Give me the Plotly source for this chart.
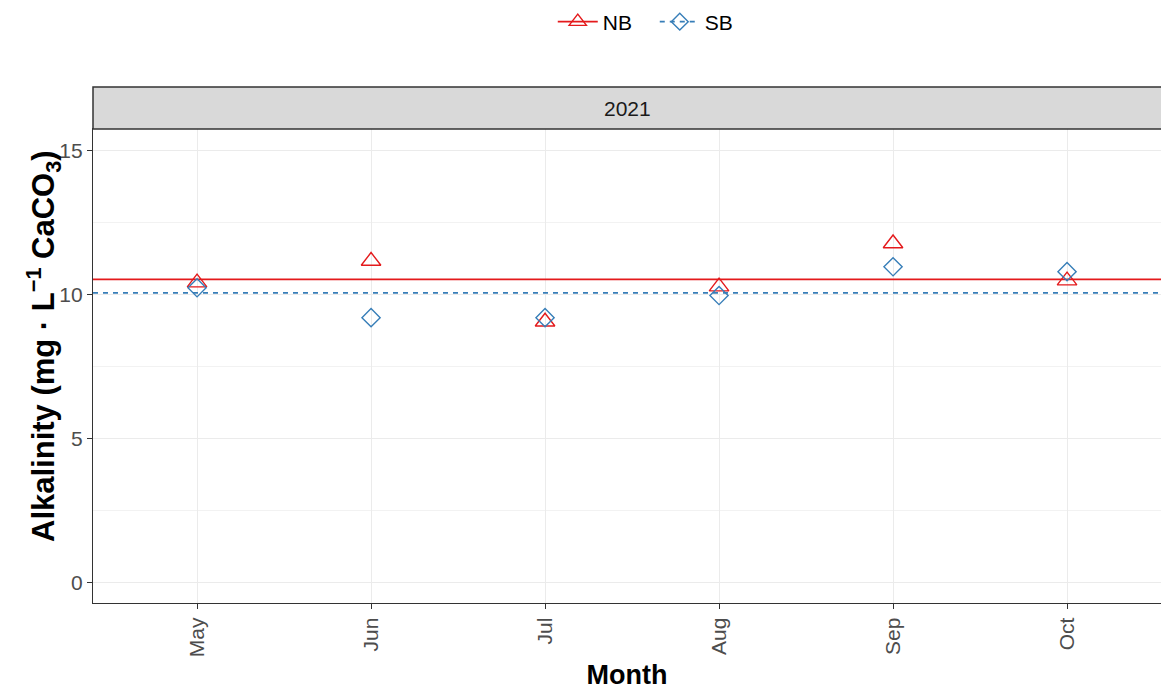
import plotly.graph_objects as go

months = ["May", "Jun", "Jul", "Aug", "Sep", "Oct"]
nb_values = [10.42, 11.17, 9.06, 10.28, 11.78, 10.49]
sb_values = [10.24, 9.20, 9.20, 9.97, 10.97, 10.80]
facet_label = "2021"
y_ticks = [0, 5, 10, 15]

RED = "#E41A1C"
BLUE = "#377EB8"
FONT = "Liberation Sans, Arial, sans-serif"

x_idx = list(range(len(months)))
x_range = [-0.598, 5.54]
nb_mean = sum(nb_values) / len(nb_values)
sb_mean = sum(sb_values) / len(sb_values)

fig = go.Figure()

# mean lines
fig.add_trace(go.Scatter(x=x_range, y=[nb_mean, nb_mean], mode="lines",
                         line=dict(color=RED, width=1.8), showlegend=False, hoverinfo="skip"))
fig.add_trace(go.Scatter(x=x_range, y=[sb_mean, sb_mean], mode="lines",
                         line=dict(color=BLUE, width=1.8, dash="5px,5px"), showlegend=False, hoverinfo="skip"))

# points
fig.add_trace(go.Scatter(x=x_idx, y=nb_values, mode="markers", showlegend=False,
                         marker=dict(symbol="triangle-up-open", size=17, color=RED, line=dict(width=1.4))))
fig.add_trace(go.Scatter(x=x_idx, y=sb_values, mode="markers", showlegend=False,
                         marker=dict(symbol="diamond-open", size=14, color=BLUE, line=dict(width=1.4))))

# legend entries
fig.add_trace(go.Scatter(x=[None], y=[None], mode="lines+markers", name="NB",
                         line=dict(color=RED, width=1.8),
                         marker=dict(symbol="triangle-up-open", size=15, color=RED, line=dict(width=1.4))))
fig.add_trace(go.Scatter(x=[None], y=[None], mode="lines+markers", name="SB",
                         line=dict(color=BLUE, width=1.8, dash="5px,5px"),
                         marker=dict(symbol="diamond-open", size=13, color=BLUE, line=dict(width=1.4))))

plot_w = 1161 - 93
plot_h = 691 - 129 - 88

fig.update_layout(
    width=1161, height=691,
    margin=dict(l=93, r=0, t=129, b=88),
    paper_bgcolor="white", plot_bgcolor="white",
    font=dict(family=FONT, color="#1A1A1A"),
    legend=dict(orientation="h", x=0.526, xanchor="center",
                y=1 + (129 - 22) / plot_h, yanchor="middle",
                font=dict(size=21, color="#000000"), itemwidth=40, entrywidth=47,
                bgcolor="rgba(0,0,0,0)"),
    xaxis=dict(range=x_range, tickvals=x_idx, ticktext=months, tickangle=-90,
               showgrid=True, gridcolor="#EBEBEB", gridwidth=1.3,
               ticks="outside", ticklen=5, tickcolor="#333333", tickwidth=1.3,
               tickfont=dict(size=21, color="#4D4D4D"),
               showline=True, linecolor="#333333", linewidth=1.3, mirror=True,
               zeroline=False,
               title=dict(text="<b>Month</b>", font=dict(size=27, color="#000000"), standoff=8)),
    yaxis=dict(range=[-0.72, 15.76], tickvals=y_ticks,
               showgrid=True, gridcolor="#EBEBEB", gridwidth=1.3,
               minor=dict(dtick=2.5, tick0=0, showgrid=True, gridcolor="#F2F2F2", gridwidth=1),
               ticks="outside", ticklen=5, tickcolor="#333333", tickwidth=1.3,
               tickfont=dict(size=21, color="#4D4D4D"),
               showline=True, linecolor="#333333", linewidth=1.3, mirror=True,
               zeroline=False),
)

# y-axis title centred over panel + strip (as ggplot does)
fig.add_annotation(text="<b>Alkalinity (mg · L<sup>−1</sup> CaCO<sub>3</sub>)</b>",
                   xref="paper", yref="paper", x=(43 - 93) / plot_w, y=(603 - 346) / plot_h,
                   xanchor="center", yanchor="middle", textangle=-90, showarrow=False,
                   font=dict(size=31, color="#000000"))

# facet strip
fig.add_shape(type="rect", xref="paper", yref="paper", x0=0, x1=1.01,
              y0=1, y1=1 + 42 / plot_h, fillcolor="#D9D9D9",
              line=dict(color="#333333", width=1.5), layer="above")
fig.add_annotation(text=facet_label, xref="paper", yref="paper", x=0.5,
                   y=1 + 21 / plot_h, showarrow=False, yanchor="middle",
                   font=dict(size=21, color="#1A1A1A"))

fig.write_html("out.html", config={"displayModeBar": False},
               post_script="document.body.style.margin='0';document.body.style.overflow='hidden';")
